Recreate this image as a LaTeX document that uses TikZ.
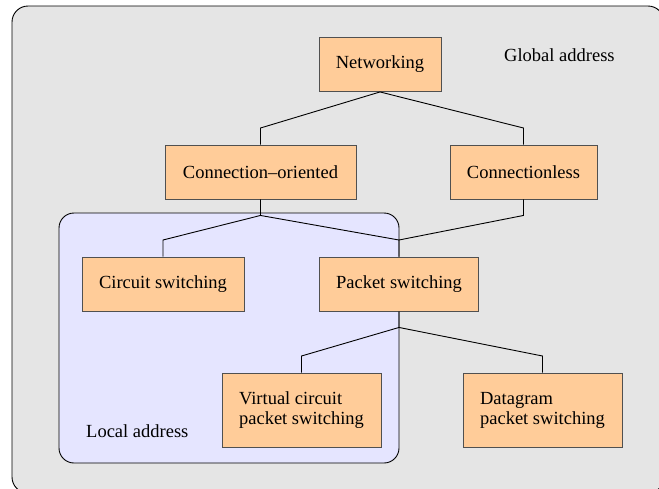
\documentclass[tikz,border=0pt]{standalone}
\usepackage{fontspec}
\setmainfont{Liberation Serif}
\definecolor{peach}{RGB}{255,204,153}
\definecolor{panel}{RGB}{229,229,229}
\definecolor{localbg}{RGB}{229,229,255}
\definecolor{boxline}{RGB}{80,80,80}
\tikzset{
  box/.style={draw=boxline, fill=peach, line width=0.9pt, inner sep=0pt,
    font=\rmfamily\fontsize{18.5}{20}\selectfont},
  twoline/.style={box, align=left},
  link/.style={draw=black, line width=0.9pt},
  tag/.style={inner sep=0pt, font=\rmfamily\fontsize{18.5}{20}\selectfont},
  area/.style={draw=black, line width=0.9pt, rounded corners=16pt}
}
\begin{document}
\begin{tikzpicture}[x=1pt, y=-1pt]
  \useasboundingbox (0,0) rectangle (659,488);
  \clip (0,0) rectangle (659,488);

  % address scopes
  \path[area, fill=panel] (12,6) rectangle (664,493);
  \path[area, fill=localbg, rounded corners=15pt] (59,213) rectangle (399,463);

  \node[tag, anchor=base west] (glob) at (504,61.5) {Global address};
  \node[tag, anchor=base west] (loc) at (86,437) {Local address};

  % classification boxes
  \node[box, minimum width=122pt, minimum height=54pt] (net) at (380,64.5) {Networking};
  \node[box, minimum width=191pt, minimum height=54pt] (co) at (260.5,172) {Connection--oriented};
  \node[box, minimum width=147pt, minimum height=54pt] (cl) at (523.5,172) {Connectionless};
  \node[box, minimum width=162pt, minimum height=54pt] (cs) at (163,284) {Circuit switching};
  \node[box, minimum width=159pt, minimum height=54pt] (ps) at (399,284) {Packet switching};
  \node[twoline, minimum width=159pt, minimum height=74pt] (vc) at (301.5,410) {Virtual circuit\\packet switching};
  \node[twoline, minimum width=159pt, minimum height=74pt] (dg) at (542.5,410) {Datagram\\packet switching};

  % tree connectors
  \draw[link] (net.south) -- (co.north |- 0,128) -- (co.north);
  \draw[link] (net.south) -- (cl.north |- 0,128) -- (cl.north);

  \draw[link] (co.south) -- ++(0,16) coordinate (jco) -- (cs.north |- 0,240) -- (cs.north);
  \draw[link] (jco) -- (ps.north |- 0,240) -- (ps.north);
  \draw[link] (cl.south) -- ++(0,16) -- (ps.north |- 0,240);

  \draw[link] (ps.south) -- ++(0,16) coordinate (jps) -- (vc.north |- 0,356) -- (vc.north);
  \draw[link] (jps) -- (dg.north |- 0,356) -- (dg.north);
\end{tikzpicture}
\end{document}
